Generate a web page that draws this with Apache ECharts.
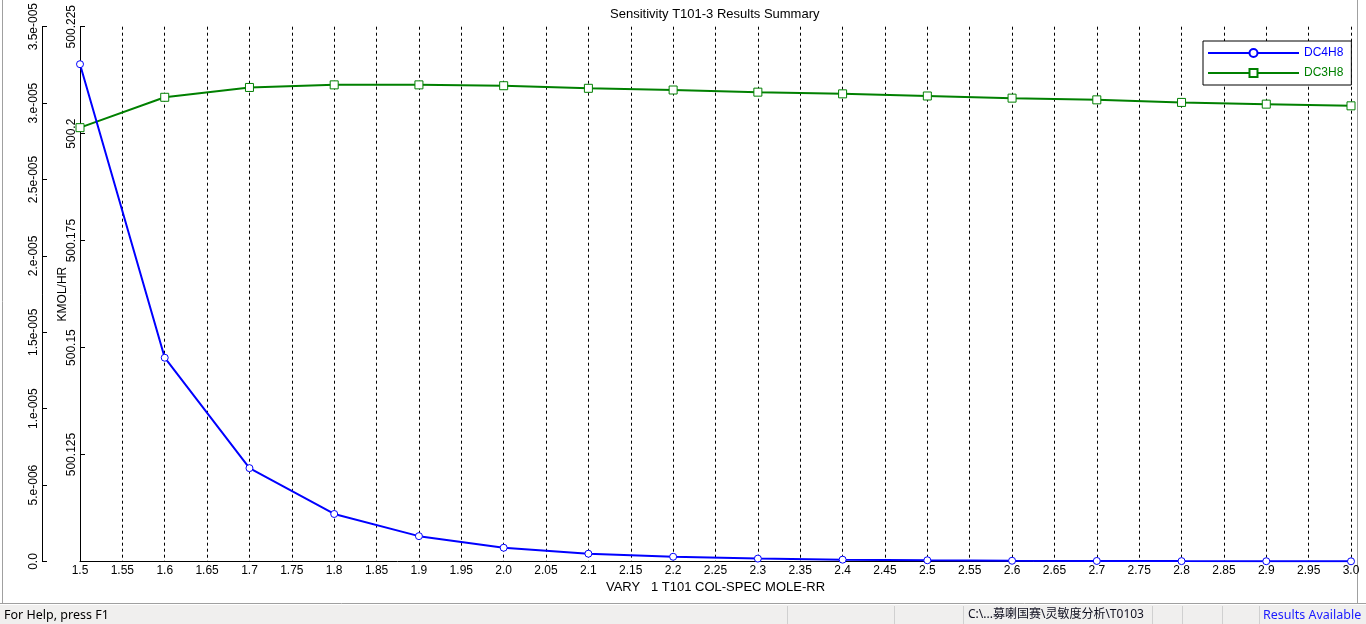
<!DOCTYPE html>
<html>
<head>
<meta charset="utf-8">
<script src="https://cdn.jsdelivr.net/npm/echarts@6/dist/echarts.min.js"></script>
<style>
html,body{margin:0;padding:0;background:#fff;}
#chart{width:1366px;height:624px;}
</style>
</head>
<body>
<div id="chart"></div>
<script>
// ---- data ----
const xValues = [1.5, 1.6, 1.7, 1.8, 1.9, 2.0, 2.1, 2.2, 2.3, 2.4, 2.5, 2.6, 2.7, 2.8, 2.9, 3.0];
const dc4h8 = [3.2545e-5, 1.3336e-5, 6.11e-6, 3.11e-6, 1.66e-6, 9.0e-7, 5.1e-7, 3.1e-7, 1.9e-7, 1.2e-7, 8e-8, 5e-8, 3.5e-8, 2.5e-8, 1.8e-8, 1.3e-8];
const dc3h8 = [500.2014, 500.2085, 500.2108, 500.2114, 500.2114, 500.2112, 500.2106, 500.2102, 500.2097, 500.2093, 500.2088, 500.2083, 500.2079, 500.2073, 500.2069, 500.2065];
const xTickLabels = ['1.5','1.55','1.6','1.65','1.7','1.75','1.8','1.85','1.9','1.95','2.0','2.05','2.1','2.15','2.2','2.25','2.3','2.35','2.4','2.45','2.5','2.55','2.6','2.65','2.7','2.75','2.8','2.85','2.9','2.95','3.0'];
const yOuterTickLabels = ['0.0','5.e-006','1.e-005','1.5e-005','2.e-005','2.5e-005','3.e-005','3.5e-005'];
const yInnerTickLabels = ['500.1','500.125','500.15','500.175','500.2','500.225'];
const seriesNames = ['DC4H8', 'DC3H8'];
const seriesColors = ['#0000ff', '#008000'];

const FONT = 'Liberation Sans, Arial, sans-serif';
const SFONT = 'Noto Sans, Noto Sans CJK SC, sans-serif';

const chart = echarts.init(document.getElementById('chart'), null, {renderer: 'canvas'});

const pairs = (ys) => xValues.map((x, i) => [x, ys[i]]);

const statusSeps = [787, 894, 963, 1152, 1182, 1222, 1259];

const graphics = [
  {type: 'text', left: 610, top: 8, style: {text: 'Sensitivity T101-3 Results Summary', font: '13px ' + FONT, fill: '#000'}},
  {type: 'line', shape: {x1: 2.5, y1: 0, x2: 2.5, y2: 603}, style: {stroke: '#a0a0a0', lineWidth: 1}},
  {type: 'line', shape: {x1: 1357.5, y1: 0, x2: 1357.5, y2: 603}, style: {stroke: '#a0a0a0', lineWidth: 1}},
  {type: 'rect', shape: {x: 0, y: 604, width: 1366, height: 20}, style: {fill: '#f0efee'}},
  {type: 'line', shape: {x1: 0, y1: 603.5, x2: 1366, y2: 603.5}, style: {stroke: '#a0a0a0', lineWidth: 1}},
  {type: 'line', shape: {x1: 0, y1: 604.5, x2: 1366, y2: 604.5}, style: {stroke: '#ffffff', lineWidth: 1}},
  {type: 'text', left: 4, top: 609, style: {text: 'For Help, press F1', font: '12.5px ' + SFONT, fill: '#000'}},
  {type: 'text', left: 968, top: 609, style: {text: 'C:\\...募喇国赛\\灵敏度分析\\T0103', font: '12px ' + SFONT, fill: '#101020'}},
  {type: 'text', left: 1263, top: 609, style: {text: 'Results Available', font: '12.5px ' + SFONT, fill: '#1a1aff'}}
];
statusSeps.forEach(x => {
  graphics.push({type: 'line', shape: {x1: x + 0.5, y1: 606, x2: x + 0.5, y2: 624}, style: {stroke: '#d0d0d0', lineWidth: 1}});
});

const option = {
  animation: false,
  backgroundColor: '#ffffff',
  textStyle: {fontFamily: FONT},
  grid: {left: 80, right: 15, top: 24, bottom: 62.5, containLabel: false},
  legend: {
    left: 1203, top: 41, orient: 'vertical',
    padding: [6, 8, 6, 4],
    itemGap: 8, itemWidth: 91, itemHeight: 10,
    backgroundColor: '#ffffff', borderColor: '#000', borderWidth: 1,
    textStyle: {fontSize: 12, fontFamily: FONT, lineHeight: 12},
    data: [
      {name: seriesNames[0], textStyle: {color: seriesColors[0]}},
      {name: seriesNames[1], textStyle: {color: seriesColors[1]}}
    ]
  },
  xAxis: {
    type: 'value', min: 1.5, max: 3.0, interval: 0.05,
    name: 'VARY   1 T101 COL-SPEC MOLE-RR', nameLocation: 'middle', nameGap: 19,
    nameTextStyle: {fontSize: 13, color: '#000', fontFamily: FONT},
    axisLine: {show: true, onZero: false, lineStyle: {color: '#000', width: 1}},
    axisTick: {show: false},
    axisLabel: {
      color: '#000', fontSize: 12, fontFamily: FONT, margin: 3, hideOverlap: false,
      formatter: v => xTickLabels[Math.round((v - 1.5) / 0.05)]
    },
    splitLine: {show: true, lineStyle: {color: '#000', width: 1, type: [3, 3]}}
  },
  yAxis: [
    {
      type: 'value', position: 'left', offset: 38, min: 0, max: 3.5e-5, interval: 5e-6,
      axisLine: {show: true, onZero: false, lineStyle: {color: '#000', width: 1}},
      axisTick: {show: true, inside: true, length: 5, lineStyle: {color: '#000'}},
      axisLabel: {
        rotate: 90, margin: 2, color: '#000', fontSize: 12, fontFamily: FONT,
        formatter: v => yOuterTickLabels[Math.round(v / 5e-6)]
      },
      splitLine: {show: false}
    },
    {
      type: 'value', position: 'left', offset: 0, min: 500.1, max: 500.225, interval: 0.025,
      name: 'KMOL/HR', nameLocation: 'middle', nameRotate: 90, nameGap: 11, nameMoveOverlap: false,
      nameTextStyle: {fontSize: 12, color: '#000', fontFamily: FONT},
      axisLine: {show: true, onZero: false, lineStyle: {color: '#000', width: 1}},
      axisTick: {show: true, inside: true, length: 5, lineStyle: {color: '#000'}},
      axisLabel: {
        rotate: 90, margin: 2, color: '#000', fontSize: 12, fontFamily: FONT, showMinLabel: false,
        formatter: v => yInnerTickLabels[Math.round((v - 500.1) / 0.025)]
      },
      splitLine: {show: false}
    }
  ],
  series: [
    {
      name: seriesNames[1], type: 'line', yAxisIndex: 1, z: 2,
      data: pairs(dc3h8),
      symbol: 'rect', symbolSize: 8, showAllSymbol: true,
      lineStyle: {color: seriesColors[1], width: 2},
      itemStyle: {color: '#ffffff', borderColor: seriesColors[1], borderWidth: 1}
    },
    {
      name: seriesNames[0], type: 'line', yAxisIndex: 0, z: 3,
      data: pairs(dc4h8),
      symbol: 'circle', symbolSize: 7, showAllSymbol: true,
      lineStyle: {color: seriesColors[0], width: 2},
      itemStyle: {color: '#ffffff', borderColor: seriesColors[0], borderWidth: 1}
    }
  ],
  graphic: graphics
};
chart.setOption(option);
</script>
</body>
</html>
